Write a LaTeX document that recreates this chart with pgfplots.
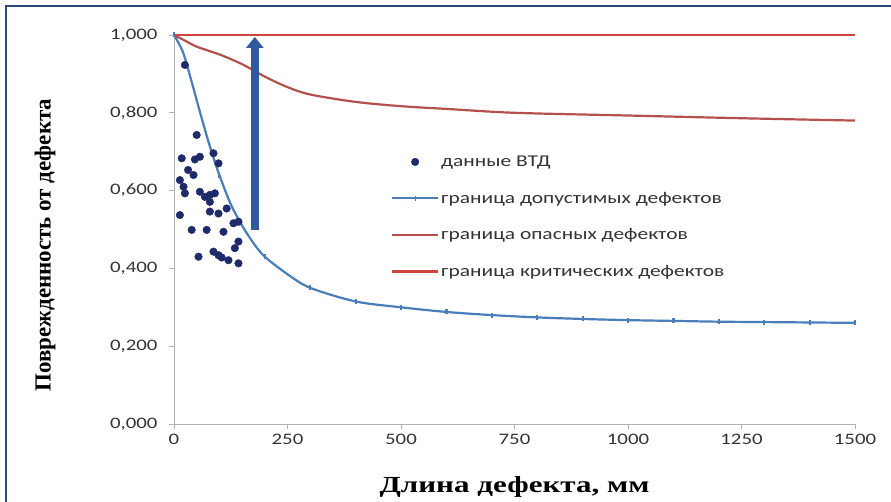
\documentclass[border=0pt]{standalone}
\usepackage{fontspec}
\usepackage{pgfplots}
\pgfplotsset{compat=1.18}
\usetikzlibrary{arrows.meta}
\setmainfont{Liberation Serif}
\newfontfamily\tickfont[FakeStretch=1.3]{Carlito}
\newfontfamily\xlabelfont[FakeStretch=1.35]{Liberation Serif}

\definecolor{admblue}{HTML}{4A7EBB}
\definecolor{dangred}{HTML}{B5504C}
\definecolor{critred}{HTML}{D0443E}
\definecolor{dotblue}{HTML}{1F2A6B}
\definecolor{arrowblue}{HTML}{2F5A9E}
\definecolor{framecol}{HTML}{2B4A7A}

\begin{document}
\begin{tikzpicture}
\begin{axis}[
scale only axis,
width=681pt, height=389pt,
xmin=0, xmax=1500,
ymin=0, ymax=1,
axis x line*=bottom,
axis y line*=left,
axis line style={gray!60, line width=0.8pt},
hide obscured x ticks=false,
hide obscured y ticks=false,
xtick={0,250,500,750,1000,1250,1500},
ytick={0,0.2,0.4,0.6,0.8,1},
tick style={gray!60, line width=0.8pt},
tick align=outside,
major tick length=5pt,
/pgf/number format/assume math mode=true,
tick label style={font=\tickfont\fontsize{16}{16}\selectfont, text=black!80},
yticklabel style={xshift=-8pt, /pgf/number format/.cd, fixed, fixed zerofill, precision=3, use comma},
xticklabel style={yshift=-2pt, /pgf/number format/.cd, fixed, set thousands separator={}},
xlabel={Длина дефекта, мм},
ylabel={Поврежденность от дефекта},
xlabel style={font=\xlabelfont\fontsize{23}{23}\selectfont\bfseries, at={(axis description cs:0.5,0)}, anchor=center, yshift=-63pt},
ylabel style={font=\fontsize{23}{23}\selectfont\bfseries, at={(axis description cs:0,0.46)}, anchor=center, yshift=129pt},
legend style={at={(0.314,0.70)}, anchor=north west, draw=none, fill=none,
  font=\tickfont\fontsize{16.5}{16.5}\selectfont, text=black!80, row sep=20pt},
legend cell align=left,
legend image code/.code={\draw[mark repeat=2,mark phase=2,#1] plot coordinates {(0pt,0pt)(23pt,0pt)(46pt,0pt)};},
]
% данные ВТД
\addplot[only marks, mark=*, mark size=3.8pt, color=dotblue] coordinates {
(24,0.923)(50,0.743)(17,0.683)(46,0.680)(57,0.687)(87,0.696)(98,0.670)
(31,0.653)(43,0.640)(13,0.627)(21,0.610)(24,0.593)(57,0.597)(68,0.584)
(79,0.589)(90,0.593)(79,0.571)(13,0.537)(79,0.546)(98,0.541)(116,0.554)
(131,0.516)(142,0.520)(39,0.499)(72,0.499)(109,0.494)(142,0.469)(134,0.452)
(54,0.430)(87,0.443)(98,0.434)(105,0.428)(120,0.421)(142,0.413)
};
\addlegendentry{данные ВТД}
% граница допустимых дефектов
\addplot[color=admblue, line width=2.2pt, smooth, mark=|, mark size=2.5pt,
  mark indices={1,6,10,12,13,14,15,16,17,18,19,20,21,22,23,24},
  legend image code/.code={\draw[admblue, line width=2.2pt] (0pt,0pt) -- (46pt,0pt);
    \draw[admblue, line width=1.2pt] (23pt,-2.5pt) -- (23pt,2.5pt);}] coordinates {
(0,1.0)(20,0.955)(40,0.875)(60,0.79)(80,0.71)(100,0.64)(125,0.565)(150,0.51)
(175,0.465)(200,0.43)(250,0.385)(300,0.35)(400,0.315)(500,0.30)(600,0.288)
(700,0.28)(800,0.274)(900,0.27)(1000,0.267)(1100,0.265)(1200,0.263)
(1300,0.262)(1400,0.261)(1500,0.26)
};
\addlegendentry{граница допустимых дефектов}
% граница опасных дефектов
\addplot[color=dangred, line width=2.2pt, smooth,
  legend image code/.code={\draw[dangred, line width=2.2pt] (0pt,0pt) -- (46pt,0pt);}] coordinates {
(0,1.0)(25,0.985)(50,0.97)(100,0.95)(150,0.925)(200,0.893)(250,0.866)
(300,0.847)(400,0.828)(500,0.817)(600,0.81)(750,0.80)(1000,0.793)
(1250,0.786)(1500,0.78)
};
\addlegendentry{граница опасных дефектов}
% граница критических дефектов
\addplot[color=critred, line width=2.2pt,
  legend image code/.code={\draw[critred, line width=2.2pt] (0pt,0pt) -- (46pt,0pt);}] coordinates {(0,1.0)(1500,1.0)};
\addlegendentry{граница критических дефектов}
% стрелка
\addplot[forget plot, color=arrowblue, line width=8pt,
  -{Triangle[width=17pt,length=11pt]}] coordinates {(178,0.498)(178,0.995)};
\end{axis}
\pgfresetboundingbox
\useasboundingbox (-174pt,-78pt) rectangle (717pt,424pt);
\draw[framecol, line width=2pt] (-168pt,-78pt) -- (-168pt,418pt) -- (717pt,418pt);
\end{tikzpicture}
\end{document}
